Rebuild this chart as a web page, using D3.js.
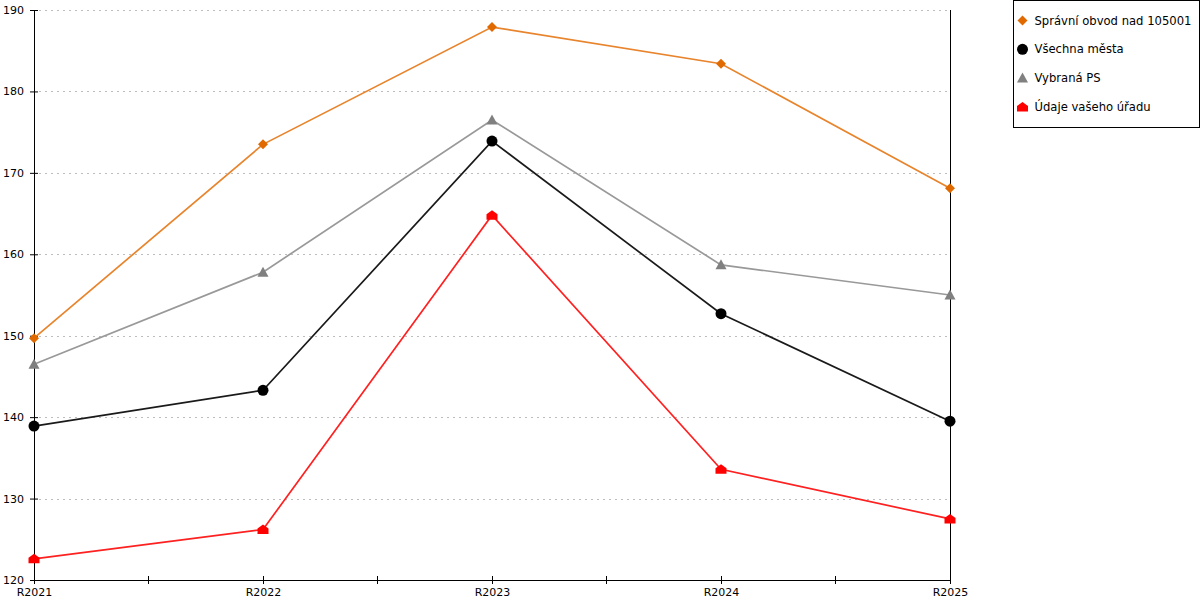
<!DOCTYPE html>
<html>
<head>
<meta charset="utf-8">
<script src="https://cdn.jsdelivr.net/npm/d3@7"></script>
<style>
  body { margin: 0; background: #fff; }
  text { font-family: "DejaVu Sans", Verdana, sans-serif; }
</style>
</head>
<body>
<div id="chart"></div>
<script>
// chart data
var years = ["R2021", "R2022", "R2023", "R2024", "R2025"];
var yTicks = [120, 130, 140, 150, 160, 170, 180, 190];

var spravniObvod = [149.7, 173.5, 187.9, 183.4, 168.1];
var vsechnaMesta = [138.9, 143.3, 173.9, 152.7, 139.5];
var vybranaPS = [146.5, 157.8, 176.5, 158.7, 155.0];
var udajeUradu = [122.6, 126.2, 164.8, 133.6, 127.5];

var seriesNames = ["Správní obvod nad 105001", "Všechna města", "Vybraná PS", "Údaje vašeho úřadu"];

var svgWidth = 1200;
var svgHeight = 600;
var margin = { top: 10, right: 250, bottom: 20, left: 34 };
var width = svgWidth - margin.left - margin.right;
var height = svgHeight - margin.top - margin.bottom;

var svg = d3.select("#chart")
  .append("svg")
  .attr("width", svgWidth)
  .attr("height", svgHeight);

var chartGroup = svg.append("g")
  .attr("transform", `translate(${margin.left}, ${margin.top})`);

var xScale = d3.scalePoint()
  .domain(years)
  .range([0, width]);

var yScale = d3.scaleLinear()
  .domain([120, 190])
  .range([height, 0]);

// marker shapes
var shapes = {
  diamond: "M0,-5L5,0L0,5L-5,0Z",
  circle: d3.symbol().type(d3.symbolCircle).size(95)(),
  triangle: "M0,-5.5L5.5,4.5L-5.5,4.5Z",
  house: "M0,-5L5.5,-1L5.5,4.5L-5.5,4.5L-5.5,-1Z"
};

var series = [
  { name: seriesNames[0], values: spravniObvod, line: "#e8842c", fill: "#e06a00", shape: "diamond" },
  { name: seriesNames[1], values: vsechnaMesta, line: "#1a1a1a", fill: "#000000", shape: "circle" },
  { name: seriesNames[2], values: vybranaPS, line: "#999999", fill: "#808080", shape: "triangle" },
  { name: seriesNames[3], values: udajeUradu, line: "#ff2020", fill: "#ff0000", shape: "house" }
];

// dashed grid
chartGroup.append("g")
  .selectAll("line")
  .data(yTicks.filter(d => d > 120))
  .join("line")
  .attr("x1", 5)
  .attr("x2", width)
  .attr("y1", d => Math.round(yScale(d)) + 0.5)
  .attr("y2", d => Math.round(yScale(d)) + 0.5)
  .attr("stroke", "#bdbdbd")
  .attr("stroke-dasharray", "2,4");

// left axis
var leftAxis = d3.axisLeft(yScale)
  .tickValues(yTicks)
  .tickSizeInner(4)
  .tickSizeOuter(0);

var yAxis = chartGroup.append("g").call(leftAxis);
yAxis.selectAll(".tick line").attr("x2", 4).attr("x1", -4);
yAxis.selectAll("text").attr("x", -10).style("font-size", "11px").attr("fill", "#000");
yAxis.select(".domain").attr("stroke", "#000");

// bottom axis
var bottomAxis = d3.axisBottom(xScale).tickSize(4).tickSizeOuter(0);
var xAxis = chartGroup.append("g")
  .attr("transform", `translate(0, ${height})`)
  .call(bottomAxis);
xAxis.selectAll(".tick line").attr("y1", -4).attr("y2", 4);
xAxis.selectAll("text").attr("y", 8).style("font-size", "11px").attr("fill", "#000");

// minor ticks between years
var midPoints = years.slice(1).map((d, i) => (xScale(years[i]) + xScale(d)) / 2);
xAxis.append("g")
  .selectAll("line")
  .data(midPoints)
  .join("line")
  .attr("x1", d => d)
  .attr("x2", d => d)
  .attr("y1", -4)
  .attr("y2", 4)
  .attr("stroke", "#000");

// right border line
chartGroup.append("line")
  .attr("x1", width + 0.5)
  .attr("x2", width + 0.5)
  .attr("y1", 0)
  .attr("y2", height)
  .attr("stroke", "#000");

// lines + markers
var line = d3.line()
  .x((d, i) => xScale(years[i]))
  .y(d => yScale(d));

series.forEach(function(s) {
  chartGroup.append("path")
    .datum(s.values)
    .attr("fill", "none")
    .attr("stroke", s.line)
    .attr("stroke-width", 1.7)
    .attr("d", line);
});

series.forEach(function(s) {
  chartGroup.append("g")
    .selectAll("path")
    .data(s.values)
    .join("path")
    .attr("d", shapes[s.shape])
    .attr("fill", s.fill)
    .attr("transform", (d, i) => `translate(${xScale(years[i])}, ${yScale(d)})`);
});

// legend
var legend = svg.append("g")
  .attr("transform", "translate(1013.5, 0.5)");

legend.append("rect")
  .attr("width", 186)
  .attr("height", 127)
  .attr("fill", "#fff")
  .attr("stroke", "#000");

var legendItems = legend.selectAll("g.item")
  .data(series)
  .join("g")
  .attr("class", "item")
  .attr("transform", (d, i) => `translate(9, ${20 + i * 28.8})`);

legendItems.append("path")
  .attr("d", d => shapes[d.shape])
  .attr("fill", d => d.fill);

legendItems.append("text")
  .attr("x", 12)
  .attr("dy", "0.35em")
  .style("font-size", "11.6px")
  .attr("fill", "#000")
  .text(d => d.name);
</script>
</body>
</html>
